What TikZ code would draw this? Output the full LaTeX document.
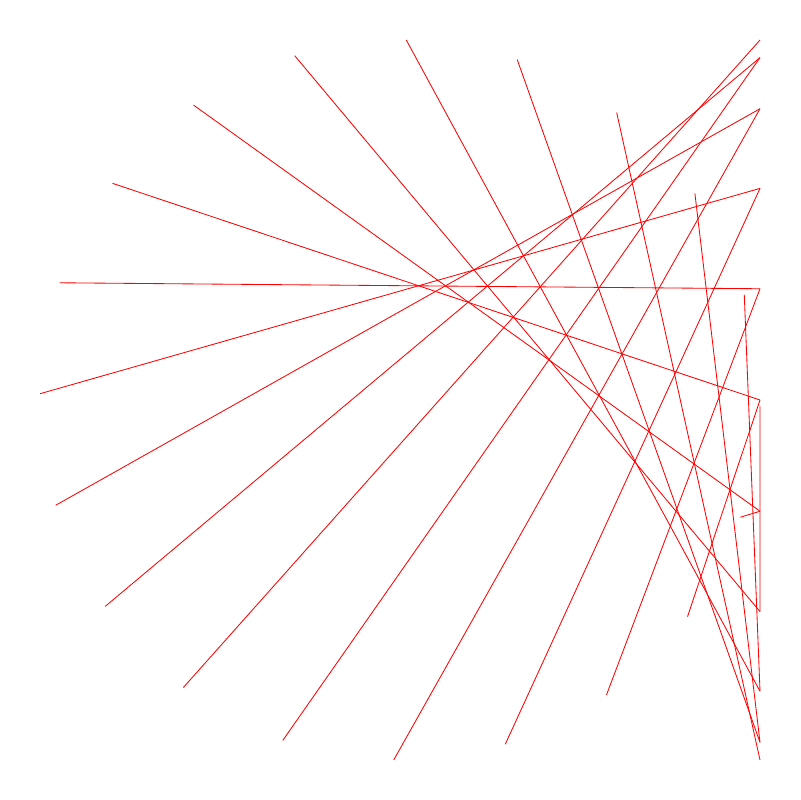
\documentclass[tikz,border=0pt]{standalone}
\begin{document}
\begin{tikzpicture}[x=0.025cm,y=0.025cm,chord/.style={draw=red,line width=0.6pt}]
\useasboundingbox (0,0) rectangle (800,800);
\foreach \k in {0,...,19}{
  \pgfmathsetmacro{\a}{179-18*\k}
  \pgfmathsetmacro{\b}{36-18*\k}
  \coordinate (c\k) at ({400+360*cos(\a)},{400+360*sin(\a)});
  \coordinate (r\k) at (760,{400+360*sin(\b)});
  \draw[chord] (c\k) -- (r\k);
}
\end{tikzpicture}
\end{document}
